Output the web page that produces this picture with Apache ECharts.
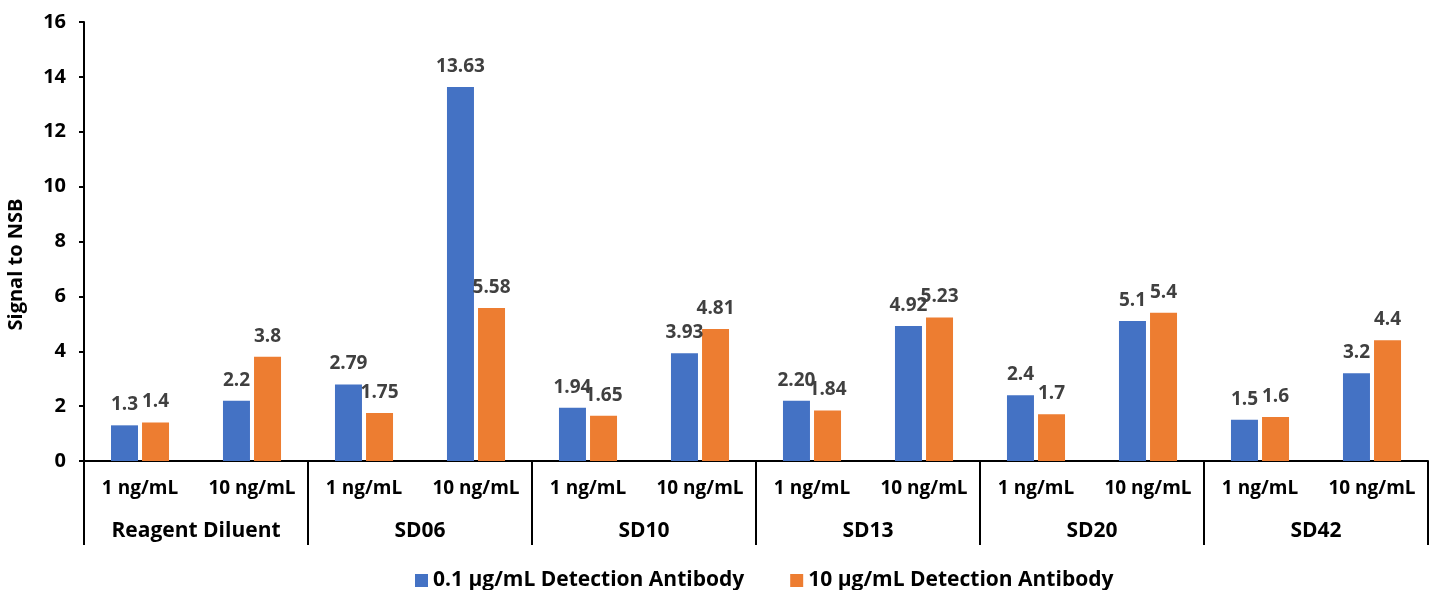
<!DOCTYPE html>
<html>
<head>
<meta charset="utf-8">
<script src="https://cdn.jsdelivr.net/npm/echarts@6/dist/echarts.min.js"></script>
<style>
  html, body { margin: 0; padding: 0; background: #fff; }
  #chart { width: 1435px; height: 590px; }
</style>
</head>
<body>
<div id="chart"></div>
<script>
// Concentration levels (inner axis) and sample groups (outer axis)
const concentrations = ['1 ng/mL', '10 ng/mL', '1 ng/mL', '10 ng/mL', '1 ng/mL', '10 ng/mL',
                        '1 ng/mL', '10 ng/mL', '1 ng/mL', '10 ng/mL', '1 ng/mL', '10 ng/mL'];
const groups = ['Reagent Diluent', 'SD06', 'SD10', 'SD13', 'SD20', 'SD42'];

// Signal to NSB values per detection antibody concentration
const seriesNames = ['0.1 µg/mL Detection Antibody', '10 µg/mL Detection Antibody'];
const lowAntibody  = [1.3, 2.2, 2.79, 13.63, 1.94, 3.93, 2.20, 4.92, 2.4, 5.1, 1.5, 3.2];
const highAntibody = [1.4, 3.8, 1.75, 5.58, 1.65, 4.81, 1.84, 5.23, 1.7, 5.4, 1.6, 4.4];
// Decimal places shown in each value label
const lowDigits  = [1, 1, 2, 2, 2, 2, 2, 2, 1, 1, 1, 1];
const highDigits = [1, 1, 2, 2, 2, 2, 2, 2, 1, 1, 1, 1];

const yTicks = { min: 0, max: 16, interval: 2 };

const FONT = '"Open Sans", "Noto Sans", sans-serif';
const colors = ['#4472C4', '#ED7D31'];

const chart = echarts.init(document.getElementById('chart'), null, { renderer: 'canvas' });

function barSeries(name, values, digits, color) {
  return {
    name: name,
    type: 'bar',
    xAxisIndex: 0,
    data: values,
    barWidth: 27,
    barGap: '15%',
    itemStyle: { color: color },
    label: {
      show: true,
      position: 'top',
      distance: 11,
      color: '#404040',
      fontFamily: FONT,
      fontWeight: 'bold',
      fontSize: 19,
      formatter: p => values[p.dataIndex].toFixed(digits[p.dataIndex])
    }
  };
}

chart.setOption({
  animation: false,
  grid: { left: 84, right: 7, top: 22, bottom: 129, containLabel: false, outerBoundsMode: 'none' },
  legend: {
    top: 565,
    left: 410,
    itemWidth: 13,
    itemHeight: 13,
    itemGap: 46,
    icon: 'rect',
    textStyle: { fontFamily: FONT, fontWeight: 'bold', fontSize: 21, color: '#000' },
    data: seriesNames
  },
  xAxis: [
    {
      type: 'category',
      data: concentrations,
      position: 'bottom',
      axisLine: { show: true, lineStyle: { color: '#000', width: 2 } },
      axisTick: { show: false },
      axisLabel: {
        interval: 0, margin: 18, color: '#000',
        fontFamily: FONT, fontWeight: 'bold', fontSize: 19
      }
    },
    {
      type: 'category',
      data: groups,
      position: 'bottom',
      axisLine: { show: false },
      axisTick: { show: true, interval: 0, length: 84, lineStyle: { color: '#000', width: 2 } },
      axisLabel: {
        interval: 0, margin: 60, color: '#000',
        fontFamily: FONT, fontWeight: 'bold', fontSize: 21
      }
    }
  ],
  yAxis: {
    type: 'value',
    min: yTicks.min,
    max: yTicks.max,
    interval: yTicks.interval,
    name: 'Signal to NSB',
    nameLocation: 'middle',
    nameGap: 58,
    nameTextStyle: {
      fontFamily: FONT, fontWeight: 'bold', fontSize: 20, color: '#000',
      padding: [0, 46, 0, 0]
    },
    axisLine: { show: true, lineStyle: { color: '#000', width: 2 } },
    axisTick: { show: true, length: 5, lineStyle: { color: '#000', width: 2 } },
    splitLine: { show: false },
    axisLabel: { margin: 18, color: '#000', fontFamily: FONT, fontWeight: 'bold', fontSize: 20 }
  },
  series: [
    barSeries(seriesNames[0], lowAntibody, lowDigits, colors[0]),
    barSeries(seriesNames[1], highAntibody, highDigits, colors[1])
  ]
});
</script>
</body>
</html>
